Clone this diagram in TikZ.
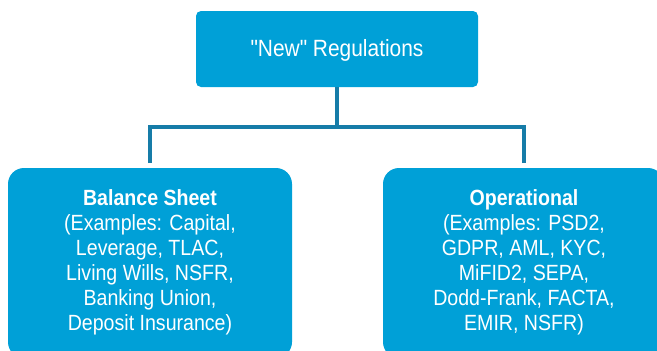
\documentclass[tikz,border=0pt]{standalone}
\usepackage{fontspec}
\setmainfont{Liberation Sans}
\newfontfamily\narrowfont[FakeStretch=0.89]{Liberation Sans}
\definecolor{boxblue}{RGB}{0,160,215}
\definecolor{lineblue}{RGB}{22,124,168}
\tikzset{
  regbox/.style={fill=boxblue, draw=none},
  boxtext/.style={text=white, align=center, inner sep=0pt, font=\narrowfont\fontsize{22}{25}\selectfont},
  titletext/.style={text=white, align=center, inner sep=0pt, font=\narrowfont\fontsize{23.5}{27}\selectfont},
  conn/.style={draw=lineblue, line width=4pt}
}
\begin{document}
\begin{tikzpicture}[x=1pt,y=-1pt]
\useasboundingbox (0,0) rectangle (657,351);
\clip (0,0) rectangle (657,351);
% boxes
\path[regbox, rounded corners=5pt] (196,11) rectangle (478,87);
\path[regbox, rounded corners=16pt] (8,168) rectangle (292,358);
\path[regbox, rounded corners=16pt] (383,168) rectangle (664,358);
% texts
\node[titletext] (top) at (337,50) {"New" Regulations};
\node[boxtext] (left) at (150,262) {\textbf{Balance Sheet}\\(Examples: Capital,\\Leverage, TLAC,\\Living Wills, NSFR,\\Banking Union,\\Deposit Insurance)};
\node[boxtext] (right) at (524,262) {\textbf{Operational}\\(Examples: PSD2,\\GDPR, AML, KYC,\\MiFID2, SEPA,\\Dodd-Frank, FACTA,\\EMIR, NSFR)};
% connectors
\coordinate (topb) at (337,87);
\coordinate (mid) at (337,127);
\coordinate (lend) at (150,163);
\coordinate (rend) at (524,163);
\draw[conn] (topb) -- (mid);
\draw[conn] (lend) |- (mid);
\draw[conn] (rend) |- (mid);
\end{tikzpicture}
\end{document}
